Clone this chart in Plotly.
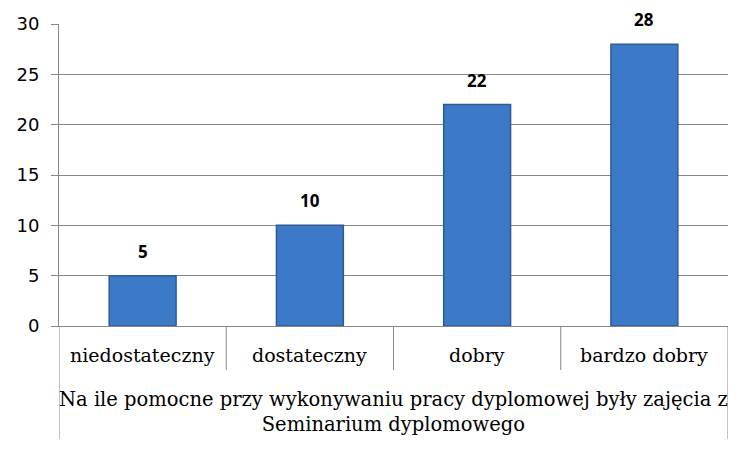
import plotly.graph_objects as go

categories = ["niedostateczny", "dostateczny", "dobry", "bardzo dobry"]
values = [5, 10, 22, 28]
y_ticks = [0, 5, 10, 15, 20, 25, 30]
title_lines = ["Na ile pomocne przy wykonywaniu pracy dyplomowej były zajęcia z",
               "Seminarium dyplomowego"]

W, H = 749, 450
L, R, T, B = 59, 21, 24, 124
plot_h = H - T - B

fig = go.Figure()
fig.add_trace(go.Bar(
    x=list(range(len(categories))), y=values, width=0.4,
    marker=dict(color="#3C7AC8", line=dict(color="#2D5B93", width=1.5)),
    hoverinfo="skip",
))

annotations = []
for i, v in enumerate(values):
    annotations.append(dict(x=i, y=v, xref="x", yref="y", text=f"<b>{v}</b>",
                            showarrow=False, yanchor="bottom", yshift=11,
                            font=dict(family="Open Sans", size=17, color="#000")))
for i, c in enumerate(categories):
    annotations.append(dict(x=i, y=-29 / plot_h, xref="x", yref="paper", text=c,
                            showarrow=False, yanchor="middle",
                            font=dict(family="DejaVu Serif", size=19, color="#000")))
annotations.append(dict(x=0.5, y=-86 / plot_h, xref="paper", yref="paper",
                        text="<br>".join(title_lines), showarrow=False,
                        yanchor="middle", align="center",
                        font=dict(family="DejaVu Serif", size=19.5, color="#000")))

shapes = []
line_style = dict(color="#868686", width=1)
for b in [0.5, 1.5, 2.5]:
    shapes.append(dict(type="line", xref="x", yref="paper", x0=b, x1=b,
                       y0=0, y1=-44 / plot_h, line=line_style))
for b in [-0.5, 3.5]:
    shapes.append(dict(type="line", xref="x", yref="paper", x0=b, x1=b,
                       y0=0, y1=-113 / plot_h, line=line_style))

fig.update_layout(
    width=W, height=H, margin=dict(l=L, r=R, t=T, b=B),
    paper_bgcolor="white", plot_bgcolor="white", showlegend=False,
    annotations=annotations, shapes=shapes,
    xaxis=dict(range=[-0.5, 3.5], showticklabels=False, showgrid=False,
               zeroline=False, showline=True, linecolor="#868686", linewidth=1,
               ticks=""),
    yaxis=dict(range=[0, 30], tickvals=y_ticks, showgrid=True, gridcolor="#868686",
               gridwidth=1, zeroline=False, showline=True, linecolor="#868686",
               linewidth=1, ticks="outside", ticklen=7, tickcolor="#868686",
               ticklabelstandoff=8,
               tickfont=dict(family="DejaVu Sans", size=18, color="#000")),
)

fig.write_html("out.html")
